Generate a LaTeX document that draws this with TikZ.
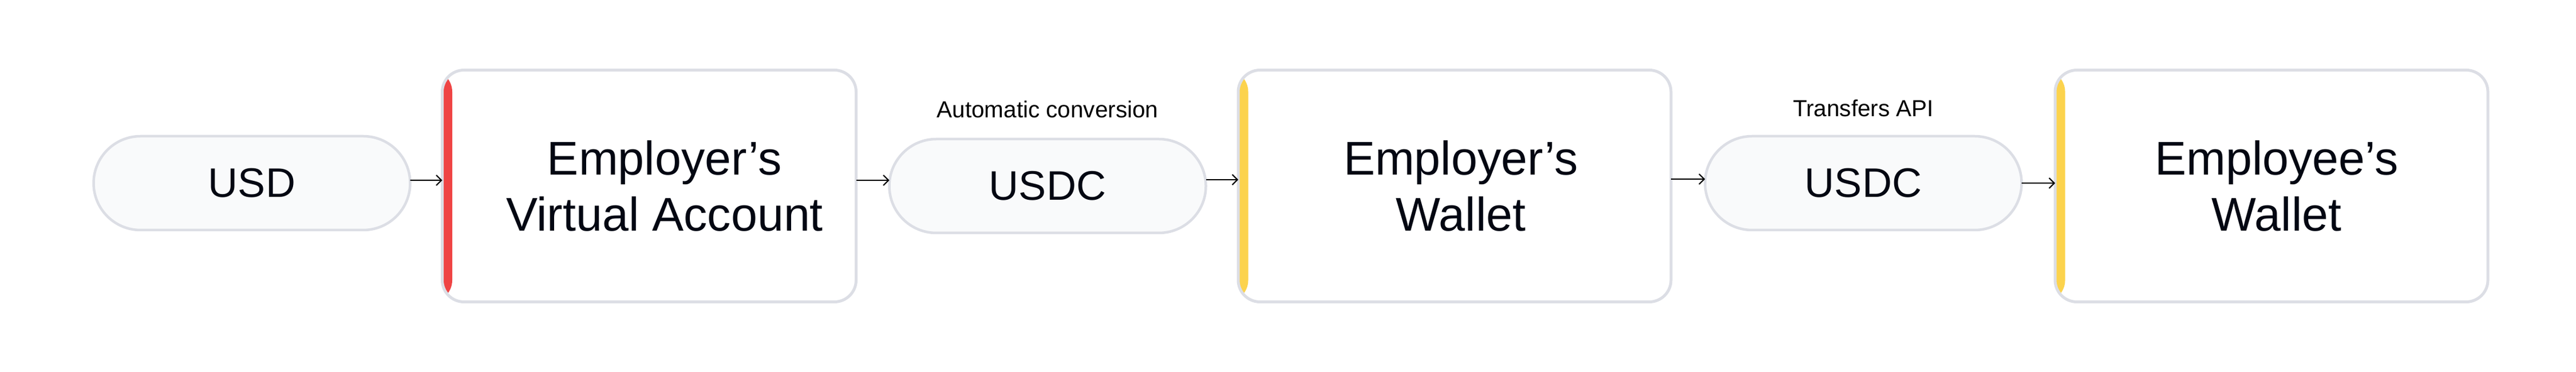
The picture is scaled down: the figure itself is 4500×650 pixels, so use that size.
\documentclass[tikz,border=0pt]{standalone}
\usepackage{fontspec}
\setmainfont{Liberation Sans}
\usetikzlibrary{positioning}
\usetikzlibrary{shapes.misc}
\usetikzlibrary{arrows.meta}
\definecolor{edgegray}{HTML}{DCDEE5}
\definecolor{pillfill}{HTML}{F9FAFB}
\definecolor{inkblack}{HTML}{030712}
\definecolor{stripered}{HTML}{EF4444}
\definecolor{stripeyellow}{HTML}{FCD34D}
\begin{document}
\begin{tikzpicture}[x=0.1mm, y=-0.1mm,
	pill/.style     = {rounded rectangle, draw=edgegray, line width=0.45mm, fill=pillfill, minimum width=55.3mm, minimum height=16.4mm, inner sep=0pt, outer sep=0pt, text=inkblack, font=\fontsize{20.5}{24}\selectfont},
	card/.style     = {rectangle, rounded corners=3.8mm, draw=edgegray, line width=0.5mm, fill=white, minimum height=40.5mm, inner sep=0pt, outer sep=0pt,
		path picture={\fill[#1] (path picture bounding box.south west) rectangle ([xshift=1.75mm]path picture bounding box.north west);}},
	cardtext/.style = {align=center, text=inkblack, font=\fontsize{23.5}{27.9}\selectfont},
	note/.style     = {anchor=base, text=black, font=\fontsize{11.5}{14}\selectfont},
	flow/.style     = {-{Straight Barb[length=0.9mm, width=1.8mm]}, line width=0.2mm, black}]
		
		\useasboundingbox (0,0) rectangle (4500,650);
		%%%%%%%%%%%%%%%%%%% USD -> virtual account
		\node[pill] (usd) at (440,320) {USD};
		\node[card=stripered, minimum width=72.3mm] (va) at (1134,325) {};
		\node[cardtext] (vatext) at ([xshift=2.7mm]va.center) {Employer’s\\Virtual Account};
		\draw[flow] ([yshift=0.5mm]usd.east) -- ([yshift=1mm]va.west);
		%%%%%%%%%%%%%%%%%%% conversion -> employer wallet
		\node[pill] (usdc1) at (1830,325) {USDC};
		\node[note, above=3.75mm of usdc1.north, anchor=base] (convnote) {Automatic conversion};
		\draw[flow] ([yshift=1mm]va.east) -- ([yshift=1mm]usdc1.west);
		\node[card=stripeyellow, minimum width=75.6mm] (ew) at (2541,325) {};
		\node[cardtext] (ewtext) at ([xshift=1.1mm]ew.center) {Employer’s\\Wallet};
		\draw[flow] ([yshift=1.1mm]usdc1.east) -- ([yshift=1.1mm]ew.west);
		%%%%%%%%%%%%%%%%%%% transfer -> employee wallet
		\node[pill] (usdc2) at (3255,320) {USDC};
		\node[note, above=3.4mm of usdc2.north, anchor=base] (apinote) {Transfers API};
		\draw[flow] ([yshift=1.2mm]ew.east) -- ([yshift=0.7mm]usdc2.west);
		\node[card=stripeyellow, minimum width=75.6mm] (emp) at (3968,325) {};
		\node[cardtext] (emptext) at ([xshift=0.9mm]emp.center) {Employee’s\\Wallet};
		\draw[flow] (usdc2.east) -- ([yshift=0.5mm]emp.west);
		
\end{tikzpicture}
\end{document}
